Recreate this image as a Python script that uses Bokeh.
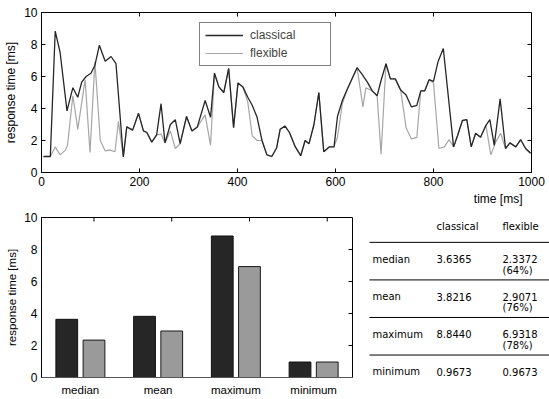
import math
from bokeh.plotting import figure
from bokeh.models import Range1d, FixedTicker, Legend, LegendItem, Title
from bokeh.layouts import column, row
from bokeh.core.properties import value
from bokeh.embed import file_html
from bokeh.resources import INLINE

# ---------------- data ----------------
t_classical = [4, 18, 28, 38, 52, 64, 74, 82, 91, 101, 109, 118, 130, 142, 152, 167, 174, 186, 198,
               208, 215, 225, 235, 244, 252, 263, 273, 283, 296, 307, 318, 334, 345, 353, 362, 372,
               382, 392, 401, 411, 421, 430, 440, 450, 460, 470, 480, 487, 497, 506, 518, 529, 538,
               546, 556, 566, 576, 587, 597, 604, 614, 624, 644, 654, 665, 675, 685, 693, 703, 712,
               722, 733, 744, 755, 766, 774, 782, 791, 800, 809, 820, 841, 849, 859, 868, 877, 886,
               896, 907, 915, 924, 936, 947, 956, 968, 978, 988, 998]
v_classical = [1.0, 1.0, 8.84, 7.5, 3.85, 5.3, 4.7, 5.65, 6.0, 6.2, 6.7, 7.95, 6.95, 7.25, 6.8, 0.97,
               2.85, 2.65, 3.7, 2.6, 2.5, 1.9, 2.35, 4.3, 1.85, 3.0, 3.3, 1.8, 3.5, 2.6, 2.85, 4.5,
               3.45, 6.2, 5.35, 5.0, 6.5, 2.8, 5.6, 5.35, 4.7, 4.2, 3.45, 2.0, 1.1, 1.0, 1.55, 2.7,
               2.9, 2.5, 1.6, 1.05, 2.0, 1.8, 3.0, 5.0, 1.3, 1.6, 1.6, 3.5, 4.5, 5.2, 6.55, 6.15,
               5.65, 5.1, 4.8, 5.75, 6.8, 5.85, 5.85, 5.15, 4.85, 4.1, 4.2, 5.1, 5.1, 5.8, 5.7, 6.9,
               7.75, 1.6, 2.3, 3.25, 3.3, 1.6, 2.45, 2.2, 2.95, 3.3, 1.7, 4.6, 1.5, 1.85, 1.6, 2.05,
               1.5, 1.2]

t_flexible = [4, 18, 28, 38, 49, 53, 64, 74, 89, 99, 109, 120, 130, 140, 150, 157, 167, 174, 186,
              198, 208, 215, 225, 235, 244, 252, 263, 273, 283, 296, 307, 318, 334, 345, 353, 362,
              372, 382, 392, 401, 411, 421, 430, 440, 450, 460, 470, 480, 487, 497, 506, 518, 529,
              538, 546, 556, 566, 576, 587, 597, 604, 614, 624, 644, 656, 662, 675, 685, 693, 703,
              712, 722, 733, 744, 755, 766, 774, 782, 791, 800, 811, 822, 832, 841, 849, 859, 868,
              877, 886, 896, 907, 917, 927, 937, 947, 956, 968, 978, 988, 998]
v_flexible = [1.0, 1.0, 1.6, 1.1, 1.4, 1.7, 4.8, 2.7, 5.8, 1.25, 6.93, 2.0, 1.35, 1.4, 1.3, 3.2,
              0.97, 2.85, 2.65, 3.7, 2.6, 2.5, 1.9, 2.35, 2.4, 1.85, 2.6, 1.5, 1.8, 3.5, 2.6, 2.85,
              3.6, 1.7, 6.2, 5.35, 5.0, 6.5, 2.8, 5.6, 5.35, 4.4, 2.3, 2.0, 2.0, 1.1, 1.0, 1.55,
              2.7, 2.9, 2.5, 1.6, 1.05, 2.0, 1.8, 3.0, 5.0, 1.3, 1.6, 1.6, 2.2, 4.3, 5.2, 6.55,
              4.1, 5.3, 5.1, 4.8, 1.15, 6.8, 5.85, 5.85, 5.15, 2.8, 2.1, 2.2, 5.1, 5.1, 5.8, 5.6,
              1.5, 1.6, 2.05, 1.6, 2.3, 3.25, 3.3, 1.6, 2.45, 2.2, 2.95, 1.1, 1.9, 2.45, 1.5, 1.85,
              1.6, 2.05, 1.5, 1.2]

series_names = ["classical", "flexible"]
x_ticks_top = [0, 200, 400, 600, 800, 1000]
y_ticks = [0, 2, 4, 6, 8, 10]

stat_names = ["median", "mean", "maximum", "minimum"]
stat_classical = [3.6365, 3.8216, 8.8440, 0.9673]
stat_flexible = [2.3372, 2.9071, 6.9318, 0.9673]
stat_percent = ["(64%)", "(76%)", "(78%)", ""]

# ---------------- style ----------------
AX_FONT = "Liberation Sans"
TAB_FONT = "DejaVu Sans"
C_DARK = "#262626"
C_LIGHT = "#a6a6a6"
BAR_DARK = "#262626"
BAR_LIGHT = "#9a9a9a"
TICK_LEN = 4
LEGEND_PAD = "\u00a0" * 9   # blank room to the right of the legend labels


def style_axis(ax, size="12px", tick_in=TICK_LEN):
    ax.major_tick_in = tick_in
    ax.major_tick_out = 0
    ax.minor_tick_line_color = None
    ax.axis_line_color = "black"
    ax.major_tick_line_color = "black"
    ax.major_label_text_color = "black"
    ax.major_label_text_font = AX_FONT
    ax.major_label_text_font_size = size
    ax.major_label_standoff = 4
    ax.axis_label_text_font = AX_FONT
    ax.axis_label_text_font_style = "normal"
    ax.axis_label_text_color = "black"


def mirror_ticks(p, xticks, yticks):
    """Inward tick marks on the top and right edges of the frame."""
    xr, yr = p.x_range, p.y_range
    if xticks:
        p.ray(x=xticks, y=[yr.end] * len(xticks), length=TICK_LEN, length_units="screen",
              angle=-math.pi / 2, line_color="black", line_width=1)
    if yticks:
        p.ray(x=[xr.end] * len(yticks), y=yticks, length=TICK_LEN, length_units="screen",
              angle=math.pi, line_color="black", line_width=1)


# ---------------- top: time series ----------------
top = figure(width=549, height=206, x_range=Range1d(0, 1000), y_range=Range1d(0, 10),
             output_backend="svg", toolbar_location=None,
             min_border_left=41, min_border_right=18, min_border_top=12, min_border_bottom=34)
top.xgrid.visible = False
top.ygrid.visible = False
top.outline_line_color = "black"
top.outline_line_alpha = 1.0

rf = top.line(t_flexible, v_flexible, line_color=C_LIGHT, line_width=1.2)
rc = top.line(t_classical, v_classical, line_color=C_DARK, line_width=1.3)
mirror_ticks(top, x_ticks_top[1:-1], y_ticks[1:-1])

top.xaxis.ticker = FixedTicker(ticks=x_ticks_top)
top.yaxis.ticker = FixedTicker(ticks=y_ticks)
style_axis(top.xaxis[0])
style_axis(top.yaxis[0])
top.yaxis.axis_label = "response time [ms]"
top.yaxis.axis_label_text_font_size = "12px"
top.yaxis.axis_label_standoff = 3

top.add_layout(Title(text="time [ms]", align="right", offset=9, standoff=2,
                     text_font=AX_FONT, text_font_size="12px", text_font_style="normal",
                     text_color="black"), "below")

legend = Legend(items=[LegendItem(label=series_names[0] + LEGEND_PAD, renderers=[rc]),
                       LegendItem(label=series_names[1] + LEGEND_PAD, renderers=[rf])],
                location=(158, 106), margin=0, padding=5, spacing=4,
                glyph_width=38, glyph_height=14, label_height=14,
                label_standoff=7, label_text_font=AX_FONT, label_text_font_size="12px",
                border_line_color="black", border_line_width=1, background_fill_alpha=1.0)
top.add_layout(legend)

# ---------------- bottom-left: bars ----------------
BOT_H = 192
BOT_TOP = 11
BOT_BOTTOM = 20
bar = figure(width=360, height=BOT_H, x_range=Range1d(0.5, len(stat_names) + 0.5),
             y_range=Range1d(0, 10), output_backend="svg", toolbar_location=None,
             min_border_left=41, min_border_right=8, min_border_top=BOT_TOP,
             min_border_bottom=BOT_BOTTOM)
bar.xgrid.visible = False
bar.ygrid.visible = False
bar.outline_line_color = "black"

idx = list(range(1, len(stat_names) + 1))
offset = 0.175
bar.vbar(x=[i - offset for i in idx], top=stat_classical, width=0.28,
         fill_color=BAR_DARK, line_color="#111111", line_width=1)
bar.vbar(x=[i + offset for i in idx], top=stat_flexible, width=0.28,
         fill_color=BAR_LIGHT, line_color="#1a1a1a", line_width=1)
mirror_ticks(bar, [i + offset for i in idx], y_ticks[1:-1])

bar.xaxis.ticker = FixedTicker(ticks=idx)
bar.xaxis.major_label_overrides = {i: n for i, n in zip(idx, stat_names)}
style_axis(bar.xaxis[0], size="11.5px", tick_in=0)
bar.xaxis.major_label_standoff = 6
bar.xaxis.axis_line_color = "#555555"
bar.yaxis.ticker = FixedTicker(ticks=y_ticks)
style_axis(bar.yaxis[0], size="12px", tick_in=0)
bar.yaxis.axis_label = "response time [ms]"
bar.yaxis.axis_label_text_font_size = "11.5px"
bar.yaxis.axis_label_standoff = 3

# ---------------- bottom-right: table ----------------
TW = 549 - 360
FRAME_H = BOT_H - BOT_TOP - BOT_BOTTOM
tab = figure(width=TW, height=BOT_H, x_range=Range1d(0, TW), y_range=Range1d(FRAME_H, 0),
             output_backend="svg", toolbar_location=None,
             x_axis_location=None, y_axis_location=None,
             min_border_left=0, min_border_right=0,
             min_border_top=BOT_TOP, min_border_bottom=BOT_BOTTOM)
tab.xgrid.visible = False
tab.ygrid.visible = False
tab.outline_line_color = None

col_x = [12, 76, 142]
header_y = 9
first_line = 25
row_h = 37.8
n = len(stat_names)
FS = "10px"

tab.text(x=col_x[1:], y=[header_y] * 2, text=series_names, text_font=value(TAB_FONT),
         text_font_size=FS, text_baseline="middle", text_color="black")
line_y = [first_line + i * row_h for i in range(n)]
tab.segment(x0=[9] * n, y0=line_y, x1=[TW] * n, y1=line_y, line_color="black", line_width=1)
row_y = [ly + 17 for ly in line_y]
tab.text(x=[col_x[0]] * n, y=row_y, text=stat_names, text_font=value(TAB_FONT),
         text_font_size=FS, text_baseline="middle", text_color="black")
tab.text(x=[col_x[1]] * n, y=row_y, text=["%.4f" % v for v in stat_classical],
         text_font=value(TAB_FONT), text_font_size=FS, text_baseline="middle",
         text_color="black")
tab.text(x=[col_x[2]] * n, y=row_y, text=["%.4f" % v for v in stat_flexible],
         text_font=value(TAB_FONT), text_font_size=FS, text_baseline="middle",
         text_color="black")
pct_idx = [i for i in range(n) if stat_percent[i]]
tab.text(x=[col_x[2]] * len(pct_idx), y=[row_y[i] + 11 for i in pct_idx],
         text=[stat_percent[i] for i in pct_idx],
         text_font=value(TAB_FONT), text_font_size=FS, text_baseline="middle",
         text_color="black")

layout = column(top, row(bar, tab))
open("out.html", "w").write(file_html(layout, INLINE))
